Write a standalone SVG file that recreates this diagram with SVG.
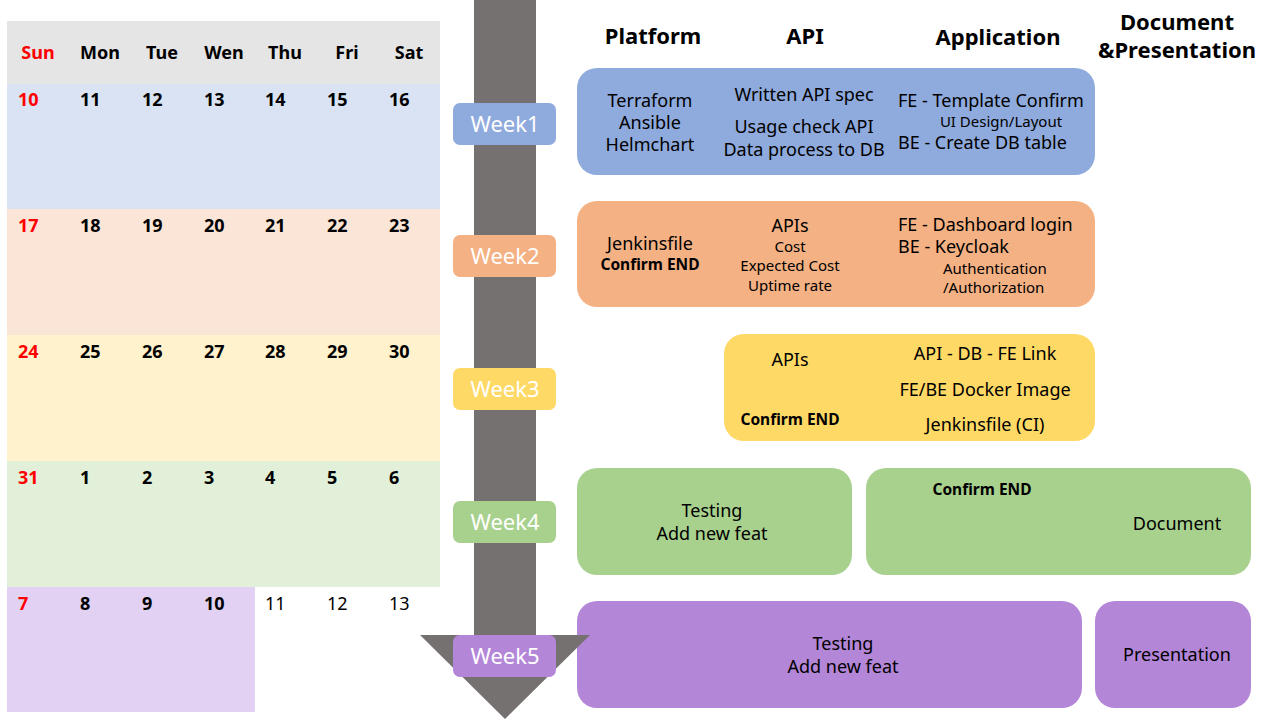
<svg xmlns="http://www.w3.org/2000/svg" width="1280" height="720" viewBox="0 0 1280 720">
<style>
text{font-family:"Noto Sans","Liberation Sans",sans-serif;fill:#000}
.hd{font-size:18px;font-weight:bold}
.num{font-size:18px;font-weight:bold}
.red{fill:#FF0000}
.thin{font-weight:normal}
.wk{font-size:22px;fill:#fff;text-anchor:middle}
.col{font-size:22px;font-weight:bold;text-anchor:middle}
.t{font-size:18px}
.s{font-size:15px}
.b{font-size:15.5px;font-weight:bold}
.c{text-anchor:middle}
</style>
<g id="calendar">
<rect x="7" y="21" width="433" height="63" fill="#E5E5E5"/>
<rect x="7" y="84" width="433" height="125" fill="#DAE3F3"/>
<rect x="7" y="209" width="433" height="126" fill="#FBE5D6"/>
<rect x="7" y="335" width="433" height="126" fill="#FFF2CC"/>
<rect x="7" y="461" width="433" height="126" fill="#E2F0D9"/>
<rect x="7" y="587" width="248" height="125" fill="#E2D1F3"/>
<g class="hd" text-anchor="middle">
<text x="38" y="59" class="hd red">Sun</text>
<text x="100" y="59" class="hd">Mon</text>
<text x="162" y="59" class="hd">Tue</text>
<text x="224" y="59" class="hd">Wen</text>
<text x="285" y="59" class="hd">Thu</text>
<text x="347" y="59" class="hd">Fri</text>
<text x="409" y="59" class="hd">Sat</text>
</g>
<g class="num">
<text x="18" y="106" class="num red">10</text><text x="80" y="106" class="num">11</text><text x="142" y="106" class="num">12</text><text x="204" y="106" class="num">13</text><text x="265" y="106" class="num">14</text><text x="327" y="106" class="num">15</text><text x="389" y="106" class="num">16</text>
<text x="18" y="232" class="num red">17</text><text x="80" y="232" class="num">18</text><text x="142" y="232" class="num">19</text><text x="204" y="232" class="num">20</text><text x="265" y="232" class="num">21</text><text x="327" y="232" class="num">22</text><text x="389" y="232" class="num">23</text>
<text x="18" y="358" class="num red">24</text><text x="80" y="358" class="num">25</text><text x="142" y="358" class="num">26</text><text x="204" y="358" class="num">27</text><text x="265" y="358" class="num">28</text><text x="327" y="358" class="num">29</text><text x="389" y="358" class="num">30</text>
<text x="18" y="484" class="num red">31</text><text x="80" y="484" class="num">1</text><text x="142" y="484" class="num">2</text><text x="204" y="484" class="num">3</text><text x="265" y="484" class="num">4</text><text x="327" y="484" class="num">5</text><text x="389" y="484" class="num">6</text>
<text x="18" y="610" class="num red">7</text><text x="80" y="610" class="num">8</text><text x="142" y="610" class="num">9</text><text x="204" y="610" class="num">10</text><text x="265" y="610" class="num thin">11</text><text x="327" y="610" class="num thin">12</text><text x="389" y="610" class="num thin">13</text>
</g>
</g>
<g id="headers">
<text x="653" y="44" class="col">Platform</text>
<text x="805" y="44" class="col">API</text>
<text x="998" y="45" class="col">Application</text>
<text x="1177" y="30" class="col">Document</text>
<text x="1177" y="58" class="col">&amp;Presentation</text>
</g>
<g id="task1">
<rect x="577" y="68" width="518" height="107" rx="20" fill="#8FAADC"/>
<text x="650" y="107" class="t c">Terraform</text>
<text x="650" y="129" class="t c">Ansible</text>
<text x="650" y="151" class="t c">Helmchart</text>
<text x="804" y="101" class="t c">Written API spec</text>
<text x="804" y="133" class="t c">Usage check API</text>
<text x="804" y="156" class="t c">Data process to DB</text>
<text x="898" y="107" class="t">FE - Template Confirm</text>
<text x="1001" y="127" class="s c">UI Design/Layout</text>
<text x="898" y="149" class="t">BE - Create DB table</text>
</g>
<g id="task2">
<rect x="577" y="201" width="518" height="106" rx="20" fill="#F4B183"/>
<text x="650" y="250" class="t c">Jenkinsfile</text>
<text x="650" y="270" class="b c">Confirm END</text>
<text x="790" y="232" class="t c">APIs</text>
<text x="790" y="252" class="s c">Cost</text>
<text x="790" y="271" class="s c">Expected Cost</text>
<text x="790" y="291" class="s c">Uptime rate</text>
<text x="898" y="231" class="t">FE - Dashboard login</text>
<text x="898" y="253" class="t">BE - Keycloak</text>
<text x="943" y="274" class="s">Authentication</text>
<text x="943" y="293" class="s">/Authorization</text>
</g>
<g id="task3">
<rect x="724" y="334" width="371" height="107" rx="20" fill="#FFD966"/>
<text x="790" y="366" class="t c">APIs</text>
<text x="790" y="425" class="b c">Confirm END</text>
<text x="985" y="360" class="t c">API - DB - FE Link</text>
<text x="985" y="396" class="t c">FE/BE Docker Image</text>
<text x="985" y="431" class="t c">Jenkinsfile (CI)</text>
</g>
<g id="task4a">
<rect x="577" y="468" width="275" height="107" rx="20" fill="#A9D18E"/>
<text x="712" y="517" class="t c">Testing</text>
<text x="712" y="540" class="t c">Add new feat</text>
</g>
<g id="task4b">
<rect x="866" y="468" width="385" height="107" rx="20" fill="#A9D18E"/>
<text x="982" y="495" class="b c">Confirm END</text>
<text x="1177" y="530" class="t c">Document</text>
</g>
<g id="task5a">
<rect x="577" y="601" width="505" height="107" rx="20" fill="#B486D8"/>
<text x="843" y="650" class="t c">Testing</text>
<text x="843" y="673" class="t c">Add new feat</text>
</g>
<g id="task5b">
<rect x="1095" y="601" width="156" height="107" rx="20" fill="#B486D8"/>
<text x="1177" y="661" class="t c">Presentation</text>
</g>
<g id="timeline">
<rect x="474" y="0" width="62" height="636" fill="#767171"/>
<polygon points="420,635 590,635 505,719" fill="#767171"/>
</g>
<g id="week1">
<rect x="453" y="103" width="103" height="42" rx="7" fill="#8FAADC"/>
<text x="505" y="132" class="wk">Week1</text>
</g>
<g id="week2">
<rect x="453" y="235" width="103" height="42" rx="7" fill="#F4B183"/>
<text x="505" y="264" class="wk">Week2</text>
</g>
<g id="week3">
<rect x="453" y="368" width="103" height="42" rx="7" fill="#FFD966"/>
<text x="505" y="397" class="wk">Week3</text>
</g>
<g id="week4">
<rect x="453" y="501" width="103" height="42" rx="7" fill="#A9D18E"/>
<text x="505" y="530" class="wk">Week4</text>
</g>
<g id="week5">
<rect x="453" y="635" width="103" height="42" rx="7" fill="#B486D8"/>
<text x="505" y="664" class="wk">Week5</text>
</g>
</svg>
